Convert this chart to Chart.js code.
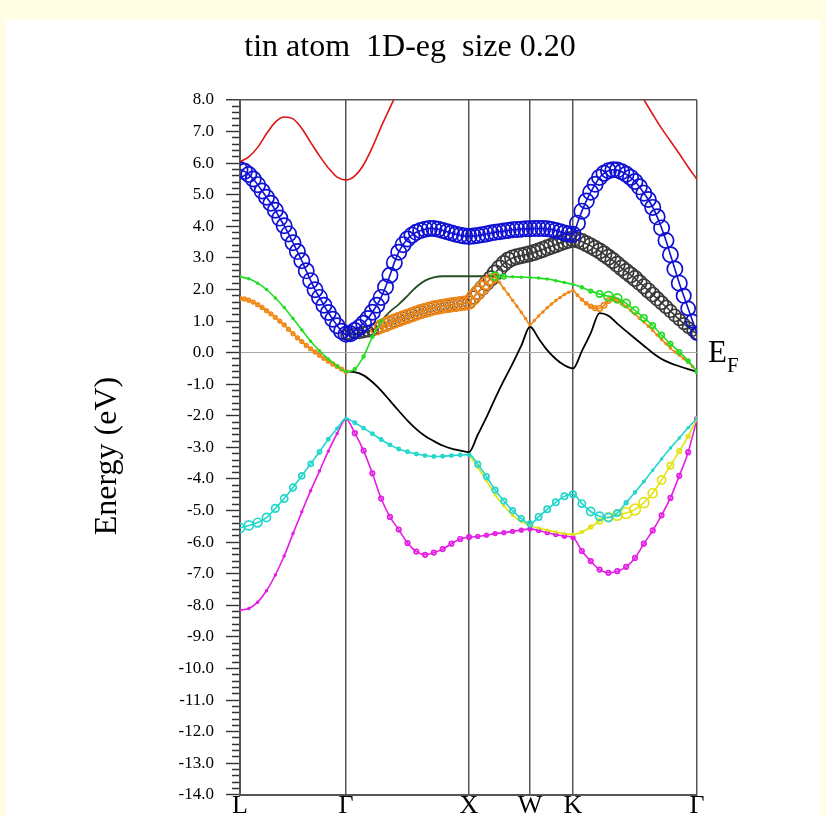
<!DOCTYPE html>
<html>
<head>
<meta charset="utf-8">
<script src="https://cdn.jsdelivr.net/npm/chart.js@4.4.0/dist/chart.umd.min.js"></script>
<style>
  html, body { margin: 0; padding: 0; background: #fffde3; }
  #wrap { position: absolute; left: 0; top: 0; width: 826px; height: 817px; }
</style>
</head>
<body>
<div id="wrap"><canvas id="bands" width="826" height="817"></canvas></div>
<script>
const titleText = 'tin atom  1D-eg  size 0.20';
const yTitle = 'Energy (eV)';

// high-symmetry points along the path (path length units) and their labels
const kPath = [0, 1.06, 2.29, 2.90, 3.33, 4.57];
const kLabels = ['L', 'Γ', 'X', 'W', 'K', 'Γ'];
const kSteps = [24, 28, 14, 10, 28];

const eMin = -14, eMax = 8;

// k mesh: fine one for the fat bands, every other point for the thin ones
const kFine = [];
kSteps.forEach((n, s) => {
  for (let i = (s === 0 ? 0 : 1); i <= n; i++) {
    kFine.push(kPath[s] + (kPath[s + 1] - kPath[s]) * i / n);
  }
});
const kCoarse = kFine.filter((_, i) => i % 2 === 0);

// ---- thin bands (coarse mesh, 53 points): L-G | G-X | X-W | W-K | K-G ----
const magenta = [
  -8.15, -8.1, -7.9, -7.54, -7.04, -6.44, -5.73, -5.04, -4.37, -3.75, -3.12, -2.56, -2.1,
  -2.55, -3.1, -3.82, -4.62, -5.2, -5.6, -6.03, -6.3, -6.4, -6.33, -6.22, -6.05, -5.9, -5.84,
  -5.82, -5.78, -5.73, -5.7, -5.66, -5.62, -5.58,
  -5.63, -5.7, -5.76, -5.81, -5.85,
  -6.28, -6.6, -6.87, -6.97, -6.92, -6.78, -6.5, -6.05, -5.63, -5.15, -4.6, -3.9, -3.15, -2.1
];
const yellow = [
  null, null, null, null, null, null, null, null, null, null, null, null, null,
  null, null, null, null, null, null, null, null, null, null, null, null, null, -3.23,
  -3.63, -4.05, -4.5, -4.85, -5.15, -5.35, -5.48,
  -5.55, -5.62, -5.68, -5.73, -5.76,
  -5.68, -5.52, -5.34, -5.21, -5.15, -5.08, -4.97, -4.75, -4.45, -4.03, -3.58, -3.12, -2.65, -2.08
];
const cyan = [
  -5.55, -5.47, -5.38, -5.22, -4.93, -4.62, -4.27, -3.9, -3.52, -3.14, -2.74, -2.4, -2.08,
  -2.22, -2.39, -2.57, -2.75, -2.92, -3.05, -3.14, -3.21, -3.26, -3.29, -3.28, -3.26, -3.24, -3.23,
  -3.53, -3.92, -4.35, -4.7, -5.0, -5.25, -5.42,
  -5.2, -4.96, -4.74, -4.55, -4.48,
  -4.78, -5.03, -5.18, -5.22, -5.08, -4.75, -4.42, -4.08, -3.72, -3.37, -3.02, -2.7, -2.38, -2.08
];
const black = [
  null, null, null, null, null, null, null, null, null, null, null, null, -0.6,
  -0.62, -0.72, -0.93, -1.2, -1.52, -1.84, -2.15, -2.42, -2.64, -2.8, -2.94, -3.04, -3.1, -3.15,
  -2.6, -2.05, -1.45, -0.88, -0.35, 0.22, 0.82,
  0.45, 0.08, -0.2, -0.4, -0.5,
  0.05, 0.62, 1.25, 1.17, 0.92, 0.68, 0.45, 0.22, -0.01, -0.2, -0.33, -0.43, -0.52, -0.6
];
const green = [
  2.4, 2.34, 2.2, 2.0, 1.73, 1.43, 1.08, 0.72, 0.36, 0.06, -0.2, -0.42, -0.6,
  -0.52, -0.12, 0.5, 1.0, null, null, null, null, null, null, null, null, null, null,
  null, null, 2.42, 2.41, 2.4, 2.39, 2.38,
  2.36, 2.33, 2.28, 2.22, 2.16,
  2.07, 1.95, 1.86, 1.79, 1.72, 1.56, 1.34, 1.1, 0.86, 0.56, 0.28, 0.02, -0.26, -0.6
];
const darkGreen = [
  null, null, null, null, null, null, null, null, null, null, null, null, null,
  null, null, null, 1.0, 1.3, 1.53, 1.8, 2.08, 2.28, 2.38, 2.42, 2.42, 2.42, 2.42,
  2.42, 2.42, 2.42, null, null, null, null,
  null, null, null, null, null,
  null, null, null, null, null, null, null, null, null, null, null, null, null, null
];
const red = [
  6.05, 6.2, 6.5, 6.93, 7.3, 7.46, 7.4, 7.1, 6.66, 6.23, 5.85, 5.56, 5.47,
  5.6, 5.95, 6.5, 7.15, 7.75, 8.35, null, null, null, null, null, null, null, null,
  null, null, null, null, null, null, null,
  null, null, null, null, null,
  null, null, null, null, null, null, 8.6, 8.02, 7.55, 7.1, 6.7, 6.3, 5.88, 5.48
];

// character weights of the thin bands (coarse mesh)
const magentaW = [
  0.1, 0.1, 0.1, 0.1, 0.1, 0.1, 0.1, 0.1, 0.1, 0.1, 0.1, 0.1, 0.1,
  0.25, 0.25, 0.25, 0.25, 0.25, 0.25, 0.25, 0.25, 0.25, 0.25, 0.25, 0.25, 0.25, 0.25,
  0.2, 0.2, 0.2, 0.2, 0.2, 0.2, 0.2,
  0.2, 0.2, 0.2, 0.2, 0.2,
  0.25, 0.25, 0.25, 0.25, 0.25, 0.25, 0.25, 0.25, 0.25, 0.25, 0.25, 0.25, 0.25, 0.25
];
const cyanW = [
  0.5, 0.5, 0.48, 0.45, 0.42, 0.4, 0.37, 0.33, 0.28, 0.23, 0.18, 0.14, 0.1,
  0.18, 0.18, 0.18, 0.18, 0.18, 0.18, 0.18, 0.18, 0.18, 0.18, 0.18, 0.18, 0.18, 0.18,
  0.3, 0.3, 0.3, 0.3, 0.3, 0.3, 0.3,
  0.35, 0.35, 0.35, 0.35, 0.35,
  0.4, 0.45, 0.45, 0.45, 0.35, 0.2, 0.15, 0.12, 0.1, 0.1, 0.1, 0.1, 0.1, 0.1
];
const yellowW = [
  0, 0, 0, 0, 0, 0, 0, 0, 0, 0, 0, 0, 0,
  0, 0, 0, 0, 0, 0, 0, 0, 0, 0, 0, 0, 0, 0.1,
  0.1, 0.1, 0.1, 0.1, 0.1, 0.1, 0.1,
  0.1, 0.1, 0.1, 0.1, 0.1,
  0.15, 0.2, 0.3, 0.45, 0.55, 0.6, 0.6, 0.55, 0.5, 0.45, 0.35, 0.25, 0.2, 0.15
];
const greenW = [
  0.1, 0.1, 0.1, 0.1, 0.1, 0.1, 0.1, 0.1, 0.1, 0.1, 0.1, 0.1, 0.1,
  0.15, 0.15, 0.15, 0.15, 0, 0, 0, 0, 0, 0, 0, 0, 0, 0,
  0, 0, 0.45, 0.25, 0.1, 0.1, 0.1,
  0.1, 0.1, 0.1, 0.1, 0.1,
  0.15, 0.2, 0.35, 0.5, 0.5, 0.45, 0.4, 0.35, 0.3, 0.3, 0.25, 0.25, 0.2, 0.2
];

// ---- fat bands (fine mesh, 105 points): L-G | G-X | X-W | W-K | K-G ----
const blue = [
  5.8, 5.74, 5.64, 5.5, 5.32, 5.12, 4.92, 4.73, 4.51, 4.26, 4.02, 3.76, 3.48,
  3.2, 2.91, 2.59, 2.28, 1.99, 1.75, 1.5, 1.27, 1.06, 0.85, 0.68, 0.58,
  0.6, 0.7, 0.8, 0.93, 1.08, 1.28, 1.5, 1.75, 2.08, 2.45, 2.85, 3.18, 3.42, 3.6,
  3.72, 3.81, 3.87, 3.91, 3.93, 3.93, 3.91, 3.87, 3.83, 3.79, 3.75, 3.72, 3.69, 3.68,
  3.69, 3.71, 3.73, 3.76, 3.79, 3.81, 3.83, 3.85, 3.87, 3.89, 3.9, 3.91, 3.92, 3.92,
  3.93, 3.93, 3.93, 3.92, 3.9, 3.87, 3.83, 3.79, 3.76, 3.75,
  4.1, 4.48, 4.8, 5.08, 5.33, 5.55, 5.68, 5.76, 5.79, 5.78, 5.73, 5.65, 5.55, 5.42,
  5.25, 5.05, 4.85, 4.6, 4.3, 3.95, 3.55, 3.1, 2.65, 2.2, 1.8, 1.4, 1.0, 0.6
];
const darkGray = [
  null, null, null, null, null, null, null, null, null, null, null, null, null,
  null, null, null, null, null, null, null, null, null, null, null, 0.55,
  0.57, 0.6, 0.62, 0.65, 0.68, 0.72, 0.77, 0.83, 0.89, 0.95, 1.0, 1.05, 1.1, 1.15,
  1.2, 1.25, 1.3, 1.34, 1.38, 1.42, 1.44, 1.47, 1.49, 1.51, 1.53, 1.55, 1.57, 1.6,
  1.75, 1.9, 2.05, 2.2, 2.35, 2.52, 2.68, 2.82, 2.93, 3.0, 3.04, 3.07, 3.1, 3.13,
  3.17, 3.22, 3.27, 3.32, 3.37, 3.42, 3.47, 3.52, 3.56, 3.6,
  3.57, 3.52, 3.45, 3.38, 3.3, 3.22, 3.12, 3.02, 2.92, 2.8, 2.68, 2.57, 2.46, 2.35,
  2.22, 2.1, 1.97, 1.84, 1.71, 1.58, 1.45, 1.32, 1.18, 1.05, 0.92, 0.8, 0.69, 0.6
];
const orange = [
  1.72, 1.7, 1.66, 1.6, 1.52, 1.43, 1.33, 1.23, 1.12, 1.0, 0.88, 0.74, 0.6,
  0.47, 0.35, 0.23, 0.12, 0.02, -0.08, -0.18, -0.27, -0.36, -0.44, -0.52, -0.6,
  null, null, null, null, null, null, 0.77, 0.83, 0.89, 0.95, 1.0, 1.05, 1.1, 1.15,
  1.2, 1.25, 1.3, 1.34, 1.38, 1.42, 1.44, 1.47, 1.49, 1.51, 1.53, 1.55, 1.57, 1.6,
  1.75, 1.9, 2.05, 2.2, 2.32, 2.38, 2.22, 2.03, 1.85, 1.66, 1.47, 1.28, 1.08, 0.88,
  1.02, 1.16, 1.29, 1.42, 1.54, 1.65, 1.75, 1.84, 1.91, 1.97,
  1.82, 1.68, 1.56, 1.47, 1.41, 1.4, 1.5, 1.65, 1.72, 1.66, 1.56, 1.46, 1.34, 1.22,
  1.09, 0.97, 0.84, 0.7, 0.56, 0.42, 0.28, 0.14, 0.02, -0.08, -0.19, -0.3, -0.44, -0.58
];

// character weights of the fat bands (fine mesh)
const blueW = [
  0.85, 0.85, 0.85, 0.85, 0.85, 0.85, 0.85, 0.85, 0.85, 0.85, 0.85, 0.85, 0.85,
  0.85, 0.85, 0.85, 0.85, 0.85, 0.85, 0.85, 0.85, 0.85, 0.85, 0.85, 0.85,
  0.85, 0.85, 0.85, 0.85, 0.85, 0.85, 0.85, 0.85, 0.85, 0.85, 0.85, 0.85, 0.85, 0.85,
  0.85, 0.85, 0.85, 0.85, 0.85, 0.85, 0.85, 0.85, 0.85, 0.85, 0.85, 0.85, 0.85, 0.85,
  0.85, 0.85, 0.85, 0.85, 0.85, 0.85, 0.85, 0.85, 0.85, 0.85, 0.85, 0.85, 0.85, 0.85,
  0.85, 0.85, 0.85, 0.85, 0.85, 0.85, 0.85, 0.85, 0.85, 0.85,
  0.85, 0.85, 0.85, 0.85, 0.85, 0.85, 0.85, 0.85, 0.85, 0.85, 0.85, 0.85, 0.85, 0.85,
  0.85, 0.85, 0.85, 0.85, 0.85, 0.85, 0.85, 0.85, 0.85, 0.85, 0.8, 0.78, 0.75, 0.72
];
const darkGrayW = [
  0, 0, 0, 0, 0, 0, 0, 0, 0, 0, 0, 0, 0,
  0, 0, 0, 0, 0, 0, 0, 0, 0, 0, 0, 0.55,
  0.55, 0.58, 0.6, 0.6, 0.62, 0.63, 0.65, 0.68, 0.7, 0.7, 0.7, 0.7, 0.7, 0.7,
  0.7, 0.7, 0.7, 0.7, 0.7, 0.7, 0.7, 0.7, 0.7, 0.7, 0.7, 0.7, 0.7, 0.7,
  0.72, 0.75, 0.78, 0.8, 0.82, 0.85, 0.85, 0.85, 0.85, 0.85, 0.85, 0.85, 0.85, 0.85,
  0.85, 0.85, 0.85, 0.85, 0.85, 0.85, 0.85, 0.85, 0.85, 0.85,
  0.85, 0.85, 0.85, 0.85, 0.85, 0.85, 0.85, 0.85, 0.85, 0.85, 0.85, 0.85, 0.85, 0.85,
  0.82, 0.8, 0.8, 0.78, 0.76, 0.74, 0.72, 0.7, 0.68, 0.66, 0.64, 0.62, 0.6, 0.6
];
const orangeW = [
  0.2, 0.2, 0.2, 0.2, 0.2, 0.2, 0.2, 0.2, 0.2, 0.2, 0.2, 0.2, 0.2,
  0.2, 0.2, 0.2, 0.2, 0.2, 0.2, 0.2, 0.2, 0.2, 0.2, 0.2, 0.2,
  0, 0, 0, 0, 0, 0, 0.7, 0.72, 0.75, 0.75, 0.75, 0.75, 0.75, 0.75,
  0.75, 0.75, 0.75, 0.75, 0.75, 0.75, 0.75, 0.75, 0.75, 0.75, 0.75, 0.75, 0.75, 0.75,
  0.78, 0.78, 0.75, 0.7, 0.6, 0.45, 0.1, 0.1, 0.1, 0.1, 0.1, 0.1, 0.1, 0.1,
  0.1, 0.1, 0.1, 0.1, 0.1, 0.1, 0.1, 0.1, 0.1, 0.1,
  0.12, 0.15, 0.18, 0.22, 0.26, 0.3, 0.3, 0.28, 0.25, 0.2, 0.15, 0.12, 0.1, 0.1,
  0.1, 0.1, 0.1, 0.1, 0.1, 0.1, 0.1, 0.1, 0.1, 0.1, 0.1, 0.1, 0.1, 0.1
];

const ringScale = 9;   // px of ring radius per unit of character weight
const serif = "'Liberation Serif', 'Times New Roman', serif";

const eTicks = [];
for (let i = eMin * 5; i <= eMax * 5; i++) eTicks.push(i / 5);
const isMajor = v => Math.abs(v - Math.round(v)) < 1e-6;

function band(label, k, e, w, color, width) {
  return {
    label: label,
    data: k.map((x, i) => ({ x: x, y: e[i] })),
    borderColor: color,
    borderWidth: width || 1.6,
    pointRadius: w ? w.map(v => v * ringScale) : 0,
    pointBorderColor: color,
    pointBackgroundColor: 'rgba(0,0,0,0)',
    pointBorderWidth: 1.7,
    pointHoverRadius: 0,
    cubicInterpolationMode: 'monotone',
    spanGaps: false,
    clip: 0
  };
}

// bottom to top
const datasets = [
  band('magenta', kCoarse, magenta, magentaW, '#e41ee4'),
  band('yellow', kCoarse, yellow, yellowW, '#e2e214'),
  band('cyan', kCoarse, cyan, cyanW, '#22d6cc'),
  band('black', kCoarse, black, null, '#000000', 1.8),
  band('darkgreen', kCoarse, darkGreen, null, '#234f23', 1.8),
  band('darkgray', kFine, darkGray, darkGrayW, '#3a3a3a'),
  band('orange', kFine, orange, orangeW, '#f08818'),
  band('green', kCoarse, green, greenW, '#22dd22'),
  band('blue', kFine, blue, blueW, '#1010d4'),
  band('red', kCoarse, red, null, '#dd1515')
];
datasets.forEach((d, i) => { d.order = datasets.length - i; });

const decor = {
  id: 'decor',
  beforeDraw(chart) {
    const c = chart.ctx;
    c.save();
    c.fillStyle = '#fffde3';
    c.fillRect(0, 0, chart.width, chart.height);
    c.fillStyle = '#ffffff';
    c.fillRect(6, 20, chart.width - 12, chart.height - 20);
    c.restore();
  },
  afterDraw(chart) {
    const c = chart.ctx, area = chart.chartArea;
    const y0 = chart.scales.y.getPixelForValue(0);
    c.save();
    c.fillStyle = '#000';
    c.textAlign = 'center';
    c.textBaseline = 'alphabetic';
    c.font = '32px ' + serif;
    c.fillText(titleText, 410, 56);

    // axis title, rotated
    c.save();
    c.translate(108, 456);
    c.rotate(-Math.PI / 2);
    c.textBaseline = 'middle';
    c.fillText(yTitle, 0, 0);
    c.restore();

    // Fermi level label
    c.textAlign = 'left';
    c.font = '31px ' + serif;
    c.fillText('E', area.right + 11, y0 + 9);
    const w = c.measureText('E').width;
    c.font = '21px ' + serif;
    c.fillText('F', area.right + 11 + w, y0 + 19);
    c.restore();
  }
};

new Chart(document.getElementById('bands'), {
  type: 'line',
  data: { datasets: datasets },
  plugins: [decor],
  options: {
    responsive: false,
    animation: false,
    events: [],
    layout: { padding: { left: 89, right: 129, top: 100, bottom: 0 } },
    plugins: { legend: { display: false }, tooltip: { enabled: false }, title: { display: false } },
    scales: {
      x: {
        type: 'linear',
        min: kPath[0],
        max: kPath[kPath.length - 1],
        afterBuildTicks: s => { s.ticks = kPath.map(v => ({ value: v })); },
        afterFit: s => { s.height = 22; },
        ticks: {
          autoSkip: false,
          maxRotation: 0,
          padding: -2,
          color: '#000',
          font: { family: serif, size: 26, lineHeight: 1 },
          callback: (v, i) => kLabels[i]
        },
        grid: { color: '#555', lineWidth: 1.5, drawTicks: false },
        border: { color: '#555', width: 2 }
      },
      y: {
        type: 'linear',
        min: eMin,
        max: eMax,
        afterBuildTicks: s => { s.ticks = eTicks.map(v => ({ value: v })); },
        afterFit: s => { s.width = 151; },
        ticks: {
          autoSkip: false,
          padding: 12,
          color: '#000',
          font: { family: serif, size: 17 },
          callback: v => isMajor(v) ? v.toFixed(1) : ''
        },
        grid: {
          color: c => {
            const v = c.tick ? c.tick.value : null;
            if (v === null) return 'rgba(0,0,0,0)';
            if (Math.abs(v) < 1e-6) return '#a8a8a8';
            if (Math.abs(v - eMax) < 1e-6) return '#555';
            return 'rgba(0,0,0,0)';
          },
          lineWidth: c => (c.tick && Math.abs(c.tick.value - eMax) < 1e-6) ? 1.5 : 1,
          tickLength: 14,
          tickColor: '#333',
          tickWidth: 1.4,
          tickBorderDash: c => (c.tick && isMajor(c.tick.value)) ? [] : [0, 6, 20]
        },
        border: { color: '#555', width: 2 },
        title: { display: false }
      }
    }
  }
});
</script>
</body>
</html>
